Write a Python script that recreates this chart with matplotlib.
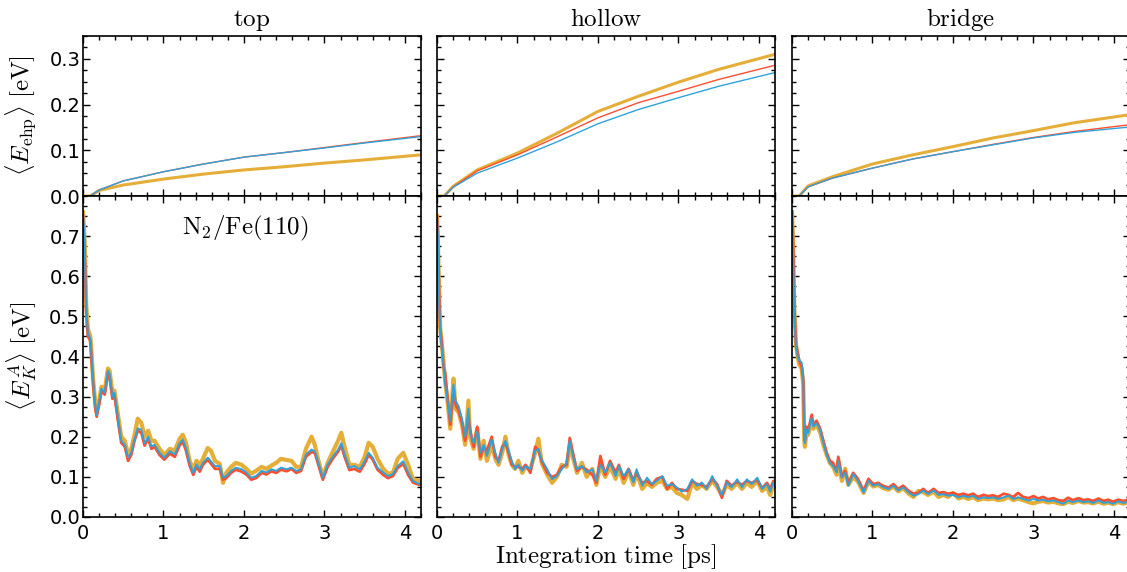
import matplotlib
matplotlib.use("Agg")
import matplotlib.pyplot as plt
from matplotlib.ticker import MultipleLocator

plt.rcParams["mathtext.fontset"] = "cm"
plt.rcParams["font.family"] = "DejaVu Sans"

BLUE = "#30a2da"
RED = "#fc4f30"
ORANGE = "#e5ae38"

sites = ["top", "hollow", "bridge"]

# energy lost to electron-hole pairs (upper row)
ehp_t = [0.0, 0.09, 0.2, 0.5, 1.0, 1.5, 2.0, 2.5, 3.0, 3.5, 4.2]
ehp_top_blue = [0.0, 0.0, 0.013, 0.033, 0.053, 0.070, 0.085, 0.095, 0.105, 0.116, 0.130]
ehp_top_red = [0.0, 0.0, 0.013, 0.033, 0.053, 0.070, 0.085, 0.095, 0.106, 0.117, 0.132]
ehp_top_orange = [0.0, 0.0, 0.012, 0.024, 0.037, 0.048, 0.057, 0.064, 0.072, 0.079, 0.090]
ehp_hollow_blue = [0.0, 0.0, 0.019, 0.050, 0.083, 0.119, 0.158, 0.189, 0.215, 0.240, 0.270]
ehp_hollow_red = [0.0, 0.0, 0.020, 0.055, 0.090, 0.130, 0.171, 0.204, 0.229, 0.255, 0.286]
ehp_hollow_orange = [0.0, 0.0, 0.021, 0.057, 0.094, 0.138, 0.185, 0.218, 0.249, 0.277, 0.310]
ehp_bridge_blue = [0.0, 0.0, 0.020, 0.039, 0.061, 0.081, 0.097, 0.112, 0.127, 0.139, 0.151]
ehp_bridge_red = [0.0, 0.0, 0.020, 0.039, 0.061, 0.081, 0.097, 0.113, 0.128, 0.141, 0.156]
ehp_bridge_orange = [0.0, 0.0, 0.022, 0.042, 0.070, 0.090, 0.108, 0.127, 0.143, 0.160, 0.178]

# adsorbate kinetic energy (lower row)
top_t = [0.0, 0.02, 0.04, 0.06, 0.09, 0.10, 0.125, 0.15, 0.17, 0.205,
         0.23, 0.27, 0.31, 0.33, 0.365, 0.39, 0.435, 0.475, 0.52, 0.56,
         0.60, 0.64, 0.68, 0.725, 0.765, 0.81, 0.85, 0.89, 0.95, 1.01,
         1.08, 1.14, 1.20, 1.24, 1.28, 1.325, 1.37, 1.41, 1.45, 1.49,
         1.55, 1.59, 1.64, 1.70, 1.74, 1.78, 1.84, 1.90, 1.97, 2.03,
         2.09, 2.15, 2.22, 2.28, 2.34, 2.40, 2.46, 2.53, 2.59, 2.65,
         2.71, 2.77, 2.84, 2.88, 2.92, 2.98, 3.04, 3.11, 3.17, 3.21,
         3.25, 3.31, 3.37, 3.44, 3.50, 3.55, 3.60, 3.66, 3.73, 3.79,
         3.85, 3.91, 3.98, 4.04, 4.10, 4.18, 4.20]
top_blue = [0.76, 0.68, 0.52, 0.46, 0.445, 0.42, 0.34, 0.283, 0.254, 0.29,
            0.32, 0.31, 0.365, 0.357, 0.30, 0.31, 0.246, 0.19, 0.18, 0.148,
            0.16, 0.193, 0.221, 0.217, 0.184, 0.20, 0.176, 0.18, 0.16, 0.148,
            0.164, 0.156, 0.184, 0.193, 0.172, 0.135, 0.11, 0.131, 0.119, 0.135,
            0.148, 0.139, 0.127, 0.127, 0.098, 0.102, 0.115, 0.123, 0.119, 0.111,
            0.098, 0.102, 0.115, 0.111, 0.119, 0.115, 0.123, 0.119, 0.123, 0.115,
            0.119, 0.156, 0.168, 0.164, 0.139, 0.098, 0.131, 0.152, 0.168, 0.184,
            0.156, 0.123, 0.127, 0.119, 0.139, 0.160, 0.148, 0.123, 0.111, 0.102,
            0.107, 0.127, 0.139, 0.111, 0.090, 0.082, 0.085]
top_red = [0.75, 0.67, 0.51, 0.45, 0.44, 0.41, 0.335, 0.275, 0.25, 0.285,
           0.315, 0.305, 0.36, 0.35, 0.295, 0.305, 0.24, 0.185, 0.175, 0.14,
           0.155, 0.19, 0.215, 0.21, 0.178, 0.195, 0.17, 0.175, 0.155, 0.143,
           0.158, 0.15, 0.178, 0.188, 0.165, 0.128, 0.105, 0.125, 0.113, 0.13,
           0.143, 0.133, 0.12, 0.12, 0.093, 0.097, 0.11, 0.118, 0.113, 0.106,
           0.093, 0.097, 0.11, 0.106, 0.114, 0.11, 0.118, 0.114, 0.12, 0.11,
           0.115, 0.15, 0.162, 0.16, 0.133, 0.093, 0.125, 0.147, 0.163, 0.178,
           0.15, 0.117, 0.12, 0.113, 0.133, 0.155, 0.143, 0.118, 0.105, 0.097,
           0.102, 0.122, 0.133, 0.105, 0.086, 0.08, 0.083]
top_orange = [0.76, 0.69, 0.53, 0.47, 0.45, 0.43, 0.345, 0.29, 0.26, 0.295,
              0.325, 0.315, 0.37, 0.365, 0.31, 0.315, 0.255, 0.20, 0.19, 0.155,
              0.17, 0.205, 0.245, 0.235, 0.20, 0.215, 0.19, 0.19, 0.17, 0.155,
              0.17, 0.165, 0.195, 0.205, 0.185, 0.14, 0.118, 0.14, 0.128, 0.145,
              0.172, 0.165, 0.14, 0.132, 0.085, 0.11, 0.125, 0.135, 0.13, 0.12,
              0.108, 0.115, 0.125, 0.12, 0.128, 0.135, 0.145, 0.142, 0.14, 0.125,
              0.125, 0.17, 0.20, 0.18, 0.145, 0.10, 0.135, 0.165, 0.19, 0.21,
              0.175, 0.13, 0.13, 0.125, 0.15, 0.185, 0.175, 0.145, 0.12, 0.108,
              0.11, 0.145, 0.16, 0.13, 0.095, 0.09, 0.09]

hollow_t = [0.0, 0.01, 0.02, 0.03, 0.04, 0.06, 0.08, 0.10, 0.125, 0.165,
            0.205, 0.23, 0.27, 0.31, 0.35, 0.39, 0.41, 0.455, 0.50, 0.54,
            0.58, 0.62, 0.68, 0.725, 0.765, 0.81, 0.85, 0.89, 0.93, 0.97,
            1.01, 1.06, 1.10, 1.16, 1.22, 1.26, 1.30, 1.37, 1.43, 1.49,
            1.55, 1.61, 1.65, 1.70, 1.74, 1.80, 1.86, 1.93, 1.98, 2.03,
            2.09, 2.15, 2.22, 2.26, 2.32, 2.38, 2.44, 2.48, 2.55, 2.61,
            2.67, 2.73, 2.80, 2.86, 2.92, 2.98, 3.04, 3.11, 3.17, 3.23,
            3.29, 3.35, 3.42, 3.48, 3.54, 3.60, 3.66, 3.73, 3.79, 3.85,
            3.91, 3.98, 4.04, 4.10, 4.14, 4.18, 4.20]
hollow_blue = [0.75, 0.70, 0.60, 0.52, 0.463, 0.42, 0.38, 0.33, 0.30, 0.24,
               0.33, 0.29, 0.275, 0.246, 0.20, 0.27, 0.21, 0.184, 0.213, 0.16,
               0.18, 0.152, 0.193, 0.16, 0.135, 0.168, 0.19, 0.165, 0.139, 0.119,
               0.131, 0.115, 0.127, 0.119, 0.165, 0.17, 0.143, 0.119, 0.094, 0.102,
               0.119, 0.135, 0.19, 0.143, 0.119, 0.127, 0.111, 0.119, 0.09, 0.13,
               0.111, 0.135, 0.102, 0.127, 0.102, 0.119, 0.086, 0.119, 0.078, 0.098,
               0.082, 0.09, 0.102, 0.078, 0.082, 0.074, 0.063, 0.070, 0.094, 0.078,
               0.086, 0.070, 0.102, 0.078, 0.055, 0.086, 0.074, 0.094, 0.074, 0.094,
               0.082, 0.098, 0.070, 0.082, 0.063, 0.086, 0.075]
hollow_red = [0.75, 0.71, 0.62, 0.53, 0.47, 0.43, 0.375, 0.36, 0.31, 0.23,
              0.32, 0.28, 0.265, 0.235, 0.19, 0.25, 0.22, 0.175, 0.225, 0.15,
              0.175, 0.165, 0.20, 0.15, 0.14, 0.175, 0.185, 0.16, 0.13, 0.125,
              0.125, 0.12, 0.13, 0.11, 0.175, 0.165, 0.14, 0.11, 0.10, 0.105,
              0.125, 0.13, 0.197, 0.15, 0.115, 0.125, 0.118, 0.105, 0.085, 0.152,
              0.105, 0.14, 0.11, 0.13, 0.095, 0.12, 0.09, 0.11, 0.085, 0.09,
              0.08, 0.095, 0.10, 0.07, 0.085, 0.07, 0.068, 0.065, 0.09, 0.082,
              0.08, 0.075, 0.095, 0.082, 0.048, 0.09, 0.078, 0.088, 0.08, 0.09,
              0.085, 0.092, 0.072, 0.085, 0.07, 0.09, 0.08]
hollow_orange = [0.75, 0.70, 0.61, 0.53, 0.47, 0.43, 0.39, 0.34, 0.30, 0.22,
                 0.345, 0.27, 0.26, 0.23, 0.18, 0.29, 0.20, 0.17, 0.22, 0.145,
                 0.19, 0.14, 0.18, 0.145, 0.13, 0.16, 0.20, 0.155, 0.13, 0.12,
                 0.14, 0.11, 0.125, 0.12, 0.16, 0.195, 0.135, 0.105, 0.085, 0.10,
                 0.13, 0.125, 0.175, 0.14, 0.11, 0.135, 0.10, 0.12, 0.08, 0.13,
                 0.10, 0.125, 0.095, 0.12, 0.085, 0.115, 0.08, 0.11, 0.07, 0.085,
                 0.075, 0.085, 0.09, 0.07, 0.075, 0.06, 0.055, 0.045, 0.085, 0.07,
                 0.08, 0.07, 0.09, 0.075, 0.055, 0.08, 0.07, 0.085, 0.07, 0.085,
                 0.075, 0.09, 0.065, 0.075, 0.055, 0.08, 0.075]

bridge_t = [0.0, 0.01, 0.02, 0.03, 0.05, 0.07, 0.09, 0.12, 0.14, 0.153,
            0.16, 0.18, 0.20, 0.245, 0.265, 0.305, 0.35, 0.39, 0.43, 0.47,
            0.51, 0.555, 0.575, 0.62, 0.66, 0.70, 0.76, 0.82, 0.89, 0.95,
            1.01, 1.07, 1.13, 1.20, 1.26, 1.32, 1.38, 1.45, 1.51, 1.57,
            1.63, 1.69, 1.76, 1.82, 1.88, 1.94, 2.00, 2.07, 2.13, 2.19,
            2.25, 2.31, 2.38, 2.44, 2.50, 2.56, 2.63, 2.69, 2.75, 2.81,
            2.87, 2.94, 3.00, 3.06, 3.12, 3.18, 3.25, 3.31, 3.37, 3.43,
            3.49, 3.56, 3.62, 3.68, 3.74, 3.81, 3.87, 3.93, 3.99, 4.05,
            4.12, 4.16, 4.20]
bridge_blue = [0.76, 0.70, 0.60, 0.50, 0.42, 0.40, 0.39, 0.385, 0.35, 0.20,
               0.184, 0.217, 0.209, 0.246, 0.225, 0.234, 0.217, 0.184, 0.156, 0.135,
               0.127, 0.111, 0.139, 0.098, 0.111, 0.078, 0.107, 0.090, 0.061, 0.090,
               0.078, 0.082, 0.074, 0.070, 0.078, 0.066, 0.074, 0.061, 0.053, 0.057,
               0.066, 0.057, 0.066, 0.055, 0.057, 0.053, 0.055, 0.049, 0.053, 0.049,
               0.053, 0.045, 0.049, 0.047, 0.049, 0.045, 0.049, 0.053, 0.045, 0.049,
               0.045, 0.041, 0.045, 0.041, 0.043, 0.039, 0.041, 0.037, 0.033, 0.041,
               0.037, 0.041, 0.037, 0.039, 0.035, 0.041, 0.035, 0.037, 0.033, 0.039,
               0.035, 0.037, 0.035]
bridge_red = [0.76, 0.71, 0.62, 0.52, 0.43, 0.41, 0.39, 0.375, 0.34, 0.21,
              0.19, 0.225, 0.215, 0.255, 0.23, 0.24, 0.22, 0.19, 0.16, 0.14,
              0.135, 0.115, 0.15, 0.10, 0.115, 0.085, 0.11, 0.095, 0.065, 0.095,
              0.082, 0.085, 0.078, 0.073, 0.082, 0.07, 0.078, 0.065, 0.058, 0.06,
              0.07, 0.06, 0.07, 0.06, 0.062, 0.058, 0.06, 0.055, 0.058, 0.054,
              0.058, 0.05, 0.055, 0.052, 0.054, 0.05, 0.058, 0.055, 0.05, 0.06,
              0.05, 0.047, 0.052, 0.046, 0.05, 0.044, 0.047, 0.042, 0.04, 0.048,
              0.042, 0.047, 0.042, 0.044, 0.04, 0.046, 0.04, 0.043, 0.038, 0.043,
              0.04, 0.042, 0.04]
bridge_orange = [0.76, 0.70, 0.61, 0.51, 0.43, 0.40, 0.38, 0.37, 0.33, 0.19,
                 0.175, 0.21, 0.205, 0.24, 0.22, 0.23, 0.21, 0.18, 0.155, 0.135,
                 0.125, 0.105, 0.14, 0.09, 0.12, 0.08, 0.10, 0.088, 0.06, 0.088,
                 0.076, 0.08, 0.072, 0.068, 0.076, 0.064, 0.072, 0.058, 0.05, 0.065,
                 0.062, 0.055, 0.063, 0.05, 0.055, 0.05, 0.06, 0.046, 0.05, 0.045,
                 0.05, 0.042, 0.046, 0.044, 0.046, 0.042, 0.044, 0.05, 0.042, 0.046,
                 0.042, 0.037, 0.034, 0.038, 0.04, 0.036, 0.038, 0.034, 0.032, 0.038,
                 0.035, 0.04, 0.036, 0.037, 0.034, 0.038, 0.033, 0.036, 0.032, 0.037,
                 0.033, 0.036, 0.034]


def style_axis(ax, ymajor_ticks):
    ax.set_xlim(0, 4.2)
    ax.xaxis.set_major_locator(MultipleLocator(1))
    ax.xaxis.set_minor_locator(MultipleLocator(0.2))
    ax.set_yticks(ymajor_ticks)
    ax.yaxis.set_minor_locator(MultipleLocator(0.025))
    ax.tick_params(which="both", direction="in", top=True, right=True,
                   labelsize=14, width=1.0)
    ax.tick_params(which="major", length=5)
    ax.tick_params(which="minor", length=3)
    ax.tick_params(axis="y", pad=2)
    ax.tick_params(axis="x", pad=5)
    for s in ax.spines.values():
        s.set_linewidth(1.2)


def main() -> None:
    fig = plt.figure(figsize=(11.27, 5.72), dpi=100)

    lefts = [83 / 1127, 437 / 1127, 792 / 1127]
    width = 338 / 1127
    top_box = (1 - 196 / 572, 160 / 572)
    bot_box = (1 - 517 / 572, 321 / 572)

    ehp_data = [
        (ehp_top_orange, ehp_top_red, ehp_top_blue),
        (ehp_hollow_orange, ehp_hollow_red, ehp_hollow_blue),
        (ehp_bridge_orange, ehp_bridge_red, ehp_bridge_blue),
    ]
    ek_data = [
        (top_t, top_orange, top_red, top_blue),
        (hollow_t, hollow_orange, hollow_red, hollow_blue),
        (bridge_t, bridge_orange, bridge_red, bridge_blue),
    ]

    for i, site in enumerate(sites):
        ax1 = fig.add_axes([lefts[i], top_box[0], width, top_box[1]])
        ax2 = fig.add_axes([lefts[i], bot_box[0], width, bot_box[1]])

        orange, red, blue = ehp_data[i]
        ax1.plot(ehp_t, orange, color=ORANGE, lw=2.2)
        ax1.plot(ehp_t, red, color=RED, lw=1.0)
        ax1.plot(ehp_t, blue, color=BLUE, lw=1.0)
        ax1.set_ylim(0, 0.35)
        style_axis(ax1, [0.0, 0.1, 0.2, 0.3])
        ax1.tick_params(labelbottom=False)
        ax1.set_title(r"$\mathrm{%s}$" % site, fontsize=18, pad=7)

        t, orange, red, blue = ek_data[i]
        ax2.plot(t, orange, color=ORANGE, lw=3.0)
        ax2.plot(t, red, color=RED, lw=2.0)
        ax2.plot(t, blue, color=BLUE, lw=1.4)
        ax2.set_ylim(0, 0.8)
        style_axis(ax2, [0.0, 0.1, 0.2, 0.3, 0.4, 0.5, 0.6, 0.7])

        if i == 0:
            ax1.set_ylabel(r"$\langle E_{\mathrm{ehp}}\rangle\ [\mathrm{eV}]$", fontsize=18)
            ax2.set_ylabel(r"$\langle E_K^A\rangle\ [\mathrm{eV}]$", fontsize=18)
            ax1.yaxis.set_label_coords(-0.13, 0.5)
            ax2.yaxis.set_label_coords(-0.13, 0.5)
            ax2.text(0.48, 0.90, r"$\mathrm{N_2/Fe(110)}$", transform=ax2.transAxes,
                     ha="center", va="center", fontsize=18)
        else:
            ax1.tick_params(labelleft=False)
            ax2.tick_params(labelleft=False)

    fig.text(606 / 1127, 1 - 563 / 572, r"$\mathrm{Integration\ time\ [ps]}$",
             ha="center", va="baseline", fontsize=18)

    fig.savefig("out.png", dpi=100)


if __name__ == "__main__":
    main()
